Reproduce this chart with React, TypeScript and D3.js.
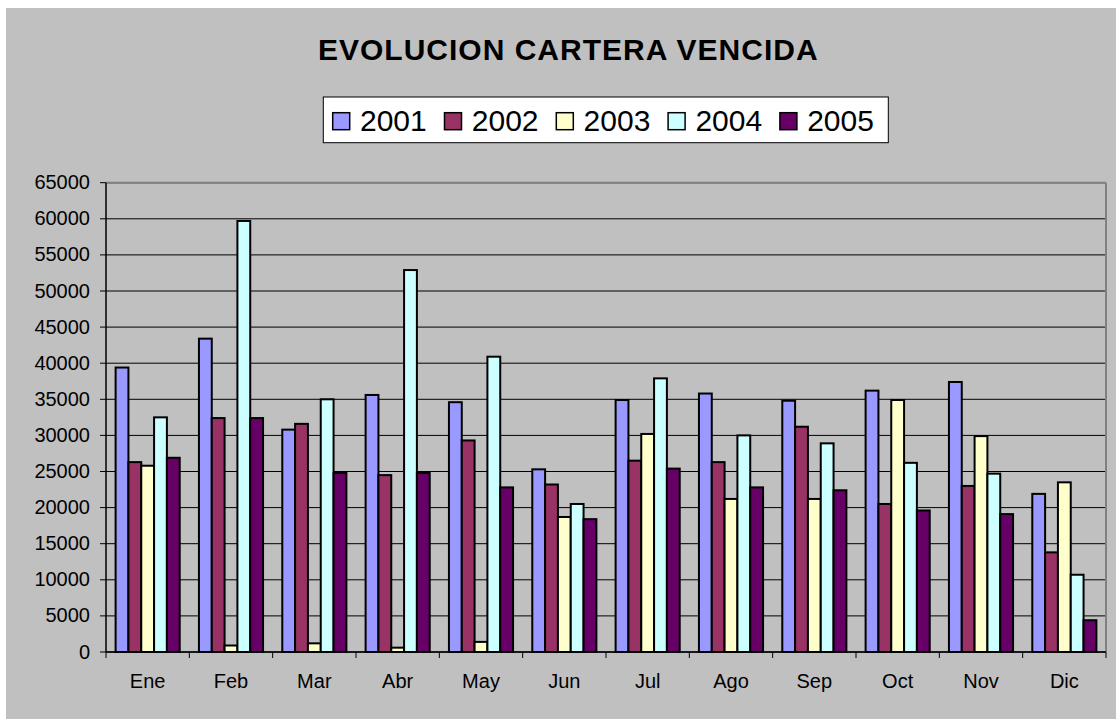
import React from "react";
import * as d3 from "d3";

const months = ["Ene", "Feb", "Mar", "Abr", "May", "Jun", "Jul", "Ago", "Sep", "Oct", "Nov", "Dic"];
const seriesNames = ["2001", "2002", "2003", "2004", "2005"];
const colors = ["#9999FF", "#993366", "#FFFFCC", "#CCFFFF", "#660066"];

const v2001 = [39400, 43400, 30800, 35600, 34600, 25300, 34900, 35800, 34800, 36200, 37400, 21900];
const v2002 = [26300, 32400, 31600, 24500, 29300, 23200, 26500, 26300, 31200, 20500, 23000, 13800];
const v2003 = [25800, 900, 1200, 600, 1400, 18700, 30200, 21200, 21200, 34900, 29900, 23500];
const v2004 = [32500, 59700, 35000, 52900, 40900, 20500, 37900, 30000, 28900, 26200, 24700, 10700];
const v2005 = [26900, 32400, 24800, 24800, 22800, 18400, 25400, 22800, 22400, 19600, 19100, 4400];
const seriesValues = [v2001, v2002, v2003, v2004, v2005];

const yTicks = d3.range(0, 65001, 5000);
const title = "EVOLUCION CARTERA VENCIDA";

const W = 1116;
const H = 719;
const plot = { left: 106, right: 1106, top: 182.7, bottom: 652 };
const FONT = "'Liberation Sans', Arial, sans-serif";

export default function App() {
  const x = d3.scaleBand<string>().domain(months).range([plot.left, plot.right]).paddingInner(0).paddingOuter(0);
  const xs = d3.scaleBand<string>().domain(seriesNames).range([0, x.bandwidth()]).paddingInner(0).paddingOuter(0.75);
  const y = d3.scaleLinear().domain([0, 65000]).range([plot.bottom, plot.top]);

  const bandEdges = months.map((m) => x(m) as number).concat([plot.right]);

  return (
    <svg
      width={W}
      height={H}
      style={{ position: "absolute", left: 0, top: 0, display: "block" }}
      fontFamily={FONT}
    >
      <rect x={0} y={0} width={W} height={H} fill="#ffffff" />
      <rect x={6} y={8} width={W - 6} height={H - 8} fill="#C0C0C0" />

      <text x={318} y={60} textAnchor="start" fontSize={30} fontWeight="bold" letterSpacing={1} fill="#000">
        {title}
      </text>

      {/* legend */}
      <rect x={323.3} y={97} width={565} height={45.7} fill="#ffffff" stroke="#000" strokeWidth={1} />
      {seriesNames.map((s, i) => {
        const sx = 332.7 + 111.8 * i;
        return (
          <g key={s}>
            <rect x={sx} y={112.7} width={17} height={17} fill={colors[i]} stroke="#000" strokeWidth={1.5} />
            <text x={sx + 27.3} y={131.3} fontSize={30} fill="#000">
              {s}
            </text>
          </g>
        );
      })}

      {/* gridlines */}
      {yTicks.map((t) => (
        <line key={"g" + t} x1={plot.left} x2={plot.right} y1={y(t)} y2={y(t)} stroke="#000" strokeWidth={1} />
      ))}
      {/* plot border top/right */}
      <line x1={plot.left} x2={plot.right} y1={plot.top} y2={plot.top} stroke="#808080" strokeWidth={2} />
      <line x1={plot.right} x2={plot.right} y1={plot.top} y2={plot.bottom} stroke="#808080" strokeWidth={2} />

      {/* bars */}
      {months.map((m, mi) => (
        <g key={m} transform={`translate(${x(m)},0)`}>
          {seriesNames.map((s, si) => {
            const v = seriesValues[si][mi];
            return (
              <rect
                key={s}
                x={xs(s)}
                y={y(v)}
                width={xs.bandwidth()}
                height={plot.bottom - y(v)}
                fill={colors[si]}
                stroke="#000"
                strokeWidth={2}
              />
            );
          })}
        </g>
      ))}

      {/* axes */}
      <line x1={plot.left} x2={plot.left} y1={plot.top} y2={plot.bottom} stroke="#000" strokeWidth={1.5} />
      <line x1={plot.left} x2={plot.right} y1={plot.bottom} y2={plot.bottom} stroke="#000" strokeWidth={1.5} />
      {yTicks.map((t) => (
        <g key={"yt" + t}>
          <line x1={plot.left - 6} x2={plot.left} y1={y(t)} y2={y(t)} stroke="#000" strokeWidth={1} />
          <text x={90} y={y(t) + 6.5} textAnchor="end" fontSize={20} fill="#000">
            {t}
          </text>
        </g>
      ))}
      {bandEdges.map((e, i) => (
        <line key={"xt" + i} x1={e} x2={e} y1={plot.bottom} y2={plot.bottom + 6} stroke="#000" strokeWidth={1} />
      ))}
      {months.map((m) => (
        <text key={"xl" + m} x={(x(m) as number) + x.bandwidth() / 2} y={688} textAnchor="middle" fontSize={20} fill="#000">
          {m}
        </text>
      ))}
    </svg>
  );
}
